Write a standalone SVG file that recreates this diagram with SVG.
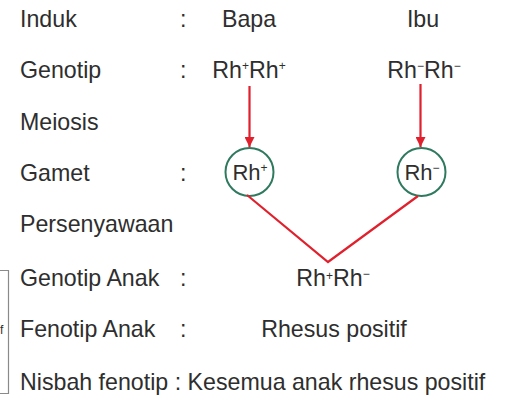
<svg xmlns="http://www.w3.org/2000/svg" width="506" height="397" viewBox="0 0 506 397">
  <style>
    text { font-family: "Liberation Sans", Arial, sans-serif; font-size: 23.2px; fill: #2e2e2e; }
    .mid { text-anchor: middle; }
    .sup { font-size: 12px; }
    .gamete { fill: none; stroke: #2f7a5f; stroke-width: 2; }
    .red { stroke: #e0212d; stroke-width: 2.2; fill: none; }
    .frame { stroke: #8a8a8a; stroke-width: 1.2; fill: none; }
  </style>
  <defs>
    <marker id="arrow" viewBox="0 0 10 10" refX="10" refY="5" markerWidth="10" markerHeight="10" markerUnits="userSpaceOnUse" orient="auto">
      <path d="M0,0 L10,5 L0,10 Z" fill="#e0212d"/>
    </marker>
  </defs>

  <!-- partial frame at the left edge -->
  <g id="side-frame">
    <path class="frame" d="M0,270.5 H8.5 V393.5 H0"/>
    <text x="0" y="334" style="font-size:12px">f</text>
  </g>

  <!-- row labels -->
  <g id="labels">
    <text x="20" y="27">Induk</text>
    <text x="20" y="78">Genotip</text>
    <text x="20" y="130">Meiosis</text>
    <text x="20" y="181">Gamet</text>
    <text x="20" y="232">Persenyawaan</text>
    <text x="20" y="286">Genotip Anak</text>
    <text x="20" y="337">Fenotip Anak</text>
    <text x="20" y="390">Nisbah fenotip : Kesemua anak rhesus positif</text>
    <text x="180" y="27">:</text>
    <text x="180" y="78">:</text>
    <text x="180" y="181">:</text>
    <text x="180" y="286">:</text>
    <text x="180" y="337">:</text>
  </g>

  <g id="father">
    <text class="mid" x="249" y="27">Bapa</text>
    <text class="mid" x="249" y="78">Rh<tspan class="sup" dy="-8">+</tspan><tspan dy="8">Rh</tspan><tspan class="sup" dy="-8">+</tspan></text>
  </g>

  <g id="mother">
    <text class="mid" x="423" y="27">Ibu</text>
    <text class="mid" x="424" y="78">Rh<tspan class="sup" dy="-8">−</tspan><tspan dy="8">Rh</tspan><tspan class="sup" dy="-8">−</tspan></text>
  </g>

  <g id="gamete-father">
    <circle class="gamete" cx="249.5" cy="172" r="24"/>
    <text class="mid" x="250" y="180" style="font-size:22px">Rh<tspan class="sup" dy="-8">+</tspan></text>
  </g>

  <g id="gamete-mother">
    <circle class="gamete" cx="421.5" cy="172" r="24"/>
    <text class="mid" x="422" y="180" style="font-size:22px">Rh<tspan class="sup" dy="-8">−</tspan></text>
  </g>

  <g id="offspring">
    <text class="mid" x="333" y="286">Rh<tspan class="sup" dy="-6">+</tspan><tspan dy="6">Rh</tspan><tspan class="sup" dy="-8">−</tspan></text>
    <text class="mid" x="334" y="337">Rhesus positif</text>
  </g>

  <g id="connectors">
    <line class="red" x1="249.5" y1="86" x2="249.5" y2="147" marker-end="url(#arrow)"/>
    <line class="red" x1="420.5" y1="84" x2="420.5" y2="147" marker-end="url(#arrow)"/>
    <polyline class="red" points="247,195 328,262 418,196"/>
  </g>
</svg>
